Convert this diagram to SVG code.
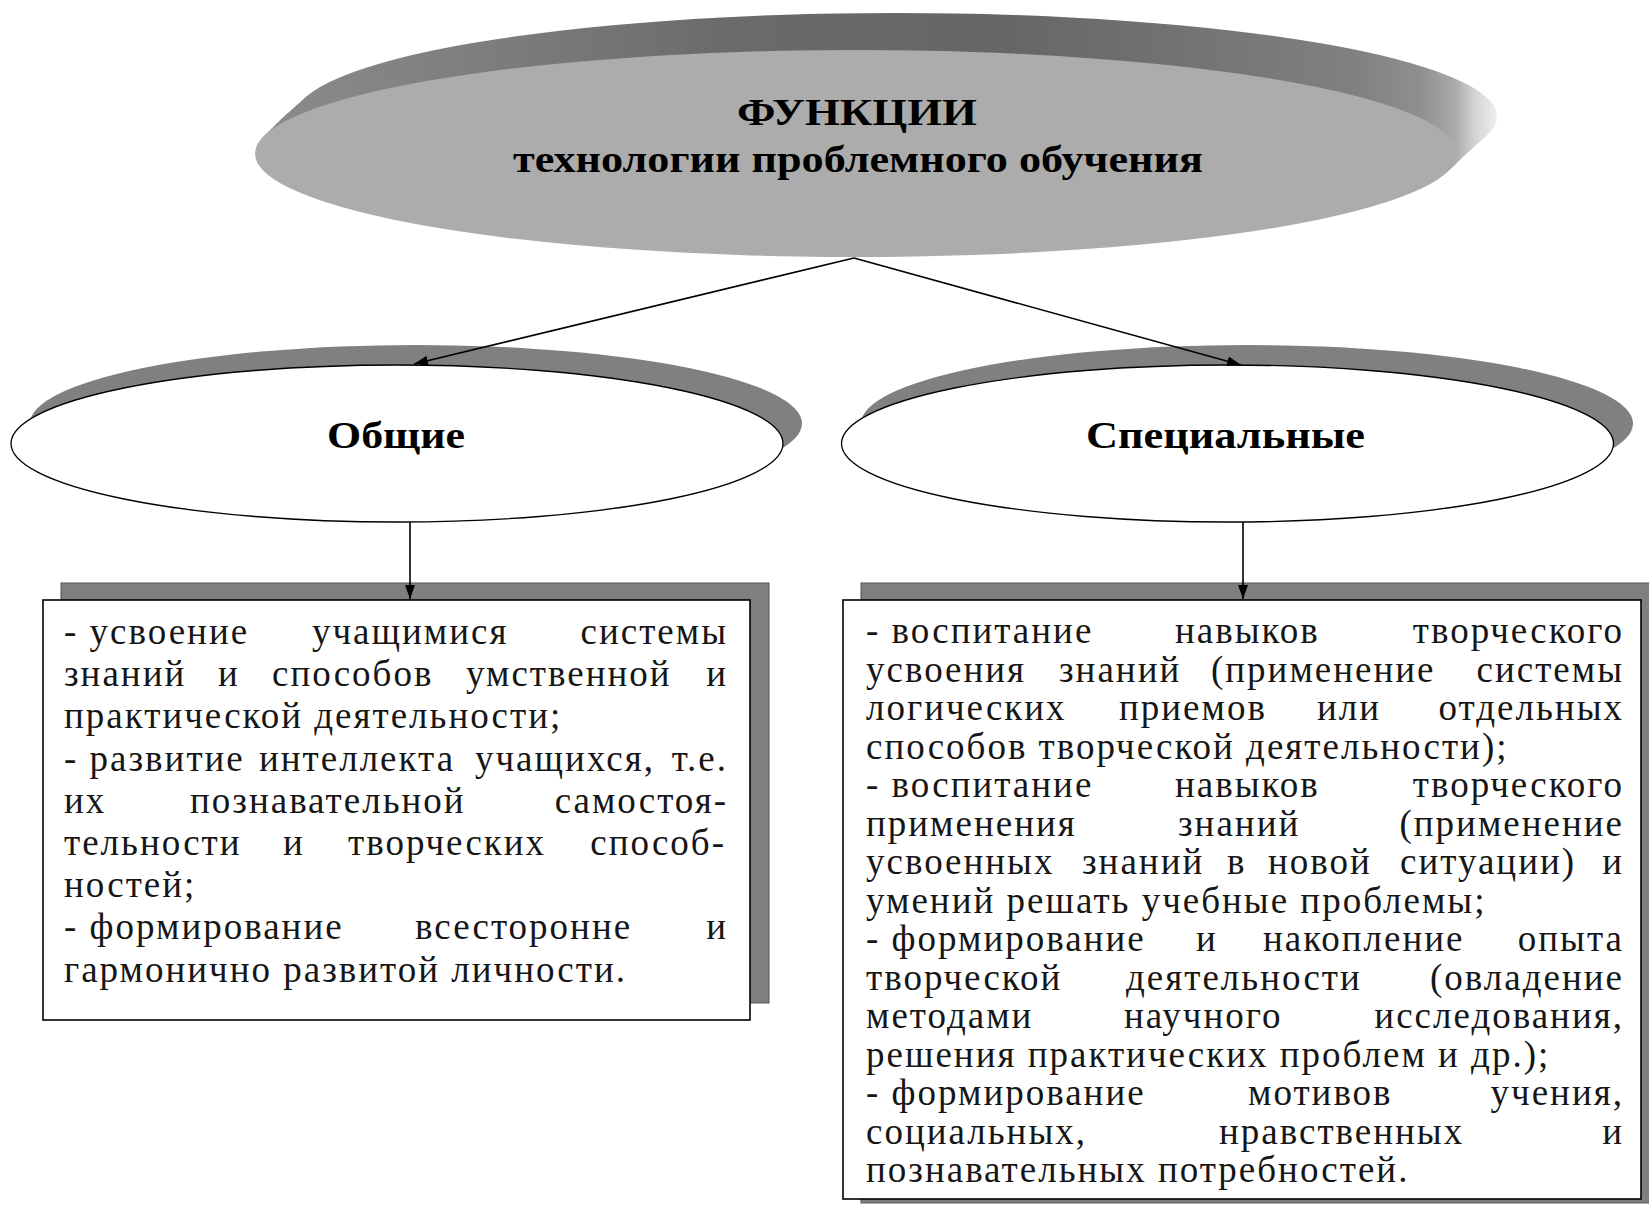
<svg xmlns="http://www.w3.org/2000/svg" width="1649" height="1207" viewBox="0 0 1649 1207">
<style>
.t{font-family:"Liberation Serif","Times New Roman",serif;font-size:37px;letter-spacing:2px;fill:#161616}
.r{text-anchor:end}
.h{font-family:"Liberation Serif","Times New Roman",serif;font-weight:bold;font-size:38px;fill:#000;text-anchor:middle}
.ln{stroke:#000;stroke-width:1.6;fill:none}
.sh{fill:#808080}
.box{fill:#fff;stroke:#000;stroke-width:1.6}
.ell{fill:#fff;stroke:#000;stroke-width:1.3}
.ext{fill:url(#extG)}
</style>
<defs>
<linearGradient id="extG" gradientUnits="userSpaceOnUse" x1="255" y1="0" x2="1500" y2="0">
<stop offset="0" stop-color="#8c8c8c"/>
<stop offset="0.2" stop-color="#7c7c7c"/>
<stop offset="0.39" stop-color="#6a6a6a"/>
<stop offset="0.6" stop-color="#666"/>
<stop offset="0.76" stop-color="#747474"/>
<stop offset="0.88" stop-color="#808080"/>
<stop offset="0.936" stop-color="#8f8f8f"/>
<stop offset="0.964" stop-color="#aaa"/>
<stop offset="0.98" stop-color="#d4d4d4"/>
<stop offset="1" stop-color="#f2f2f2"/>
</linearGradient>
<marker id="ah" viewBox="0 0 14 10" refX="14" refY="5" markerWidth="14" markerHeight="10" markerUnits="userSpaceOnUse" orient="auto">
<path d="M0,0 L14,5 L0,10 z" fill="#000"/>
</marker>
</defs>
<rect width="1649" height="1207" fill="#fff"/>

<g id="title">
<ellipse class="ext" cx="896" cy="116.5" rx="601" ry="103.5"/>
<ellipse class="ext" cx="891" cy="121" rx="601" ry="103.5"/>
<ellipse class="ext" cx="886" cy="125.5" rx="601" ry="103.5"/>
<ellipse class="ext" cx="881" cy="130" rx="601" ry="103.5"/>
<ellipse class="ext" cx="876" cy="134.5" rx="601" ry="103.5"/>
<ellipse class="ext" cx="871" cy="139" rx="601" ry="103.5"/>
<ellipse class="ext" cx="866" cy="144" rx="601" ry="103.5"/>
<ellipse class="ext" cx="861" cy="149" rx="601" ry="103.5"/>
<ellipse cx="856" cy="153.5" rx="601" ry="103.5" fill="#acacac"/>
<text class="h" x="857" y="125" textLength="240" lengthAdjust="spacingAndGlyphs">ФУНКЦИИ</text>
<text class="h" x="858" y="172" textLength="690" lengthAdjust="spacingAndGlyphs">технологии проблемного обучения</text>
</g>

<g id="node-general">
<ellipse class="sh" cx="416" cy="423.5" rx="386" ry="78.5"/>
<ellipse class="ell" cx="397" cy="443.5" rx="386" ry="78.5"/>
<text class="h" x="396" y="448" textLength="138" lengthAdjust="spacingAndGlyphs">Общие</text>
</g>

<g id="node-special">
<ellipse class="sh" cx="1247" cy="423.5" rx="386" ry="78.5"/>
<ellipse class="ell" cx="1227.5" cy="443.5" rx="386" ry="78.5"/>
<text class="h" x="1225.5" y="448" textLength="279" lengthAdjust="spacingAndGlyphs">Специальные</text>
</g>

<g id="box-general">
<rect x="61" y="583" width="708" height="420" fill="#7f7f7f" stroke="#555" stroke-width="1"/>
<rect class="box" x="43" y="600" width="707" height="420"/>
<text class="t" x="64" y="644">- усвоение</text><text class="t" x="312" y="644">учащимися</text><text class="t r" x="728" y="644">системы</text>
<text class="t" x="64" y="686">знаний</text><text class="t" x="218" y="686">и</text><text class="t" x="272" y="686">способов</text><text class="t" x="466" y="686">умственной</text><text class="t r" x="728" y="686">и</text>
<text class="t" x="64" y="728">практической деятельности;</text>
<text class="t" x="64" y="771">- развитие</text><text class="t" x="259" y="771">интеллекта</text><text class="t" x="475" y="771">учащихся,</text><text class="t r" x="728" y="771">т.е.</text>
<text class="t" x="64" y="813">их</text><text class="t" x="190" y="813">познавательной</text><text class="t r" x="728" y="813">самостоя-</text>
<text class="t" x="64" y="855">тельности</text><text class="t" x="283" y="855">и</text><text class="t" x="348" y="855">творческих</text><text class="t r" x="726" y="855">способ-</text>
<text class="t" x="64" y="897">ностей;</text>
<text class="t" x="64" y="939">- формирование</text><text class="t" x="415" y="939">всесторонне</text><text class="t r" x="728" y="939">и</text>
<text class="t" x="64" y="982">гармонично развитой личности.</text>
</g>

<g id="box-special">
<rect x="861" y="583" width="800" height="620" fill="#7f7f7f" stroke="#555" stroke-width="1"/>
<rect class="box" x="843" y="600" width="798" height="599"/>
<text class="t" x="866" y="643">- воспитание</text><text class="t" x="1175" y="643">навыков</text><text class="t r" x="1624" y="643">творческого</text>
<text class="t" x="866" y="681.5">усвоения</text><text class="t" x="1059" y="681.5">знаний</text><text class="t" x="1211" y="681.5">(применение</text><text class="t r" x="1624" y="681.5">системы</text>
<text class="t" x="866" y="720">логических</text><text class="t" x="1119" y="720">приемов</text><text class="t" x="1317" y="720">или</text><text class="t r" x="1624" y="720">отдельных</text>
<text class="t" x="866" y="758.5">способов творческой деятельности);</text>
<text class="t" x="866" y="797">- воспитание</text><text class="t" x="1175" y="797">навыков</text><text class="t r" x="1624" y="797">творческого</text>
<text class="t" x="866" y="835.5">применения</text><text class="t" x="1178" y="835.5">знаний</text><text class="t r" x="1624" y="835.5">(применение</text>
<text class="t" x="866" y="874">усвоенных</text><text class="t" x="1082" y="874">знаний</text><text class="t" x="1227" y="874">в</text><text class="t" x="1268" y="874">новой</text><text class="t" x="1400" y="874">ситуации)</text><text class="t r" x="1624" y="874">и</text>
<text class="t" x="866" y="912.5">умений решать учебные проблемы;</text>
<text class="t" x="866" y="951">- формирование</text><text class="t" x="1196" y="951">и</text><text class="t" x="1263" y="951">накопление</text><text class="t r" x="1624" y="951">опыта</text>
<text class="t" x="866" y="989.5">творческой</text><text class="t" x="1126" y="989.5">деятельности</text><text class="t r" x="1624" y="989.5">(овладение</text>
<text class="t" x="866" y="1028">методами</text><text class="t" x="1124" y="1028">научного</text><text class="t r" x="1624" y="1028">исследования,</text>
<text class="t" x="866" y="1066.5">решения практических проблем и др.);</text>
<text class="t" x="866" y="1105">- формирование</text><text class="t" x="1248" y="1105">мотивов</text><text class="t r" x="1624" y="1105">учения,</text>
<text class="t" x="866" y="1143.5">социальных,</text><text class="t" x="1219" y="1143.5">нравственных</text><text class="t r" x="1624" y="1143.5">и</text>
<text class="t" x="866" y="1182">познавательных потребностей.</text>
</g>

<g id="connectors">
<line class="ln" x1="854" y1="258" x2="414" y2="364" marker-end="url(#ah)"/>
<line class="ln" x1="854" y1="258" x2="1241" y2="365" marker-end="url(#ah)"/>
<line class="ln" x1="410" y1="522" x2="410" y2="599" marker-end="url(#ah)"/>
<line class="ln" x1="1243" y1="522" x2="1243" y2="599" marker-end="url(#ah)"/>
</g>
</svg>
